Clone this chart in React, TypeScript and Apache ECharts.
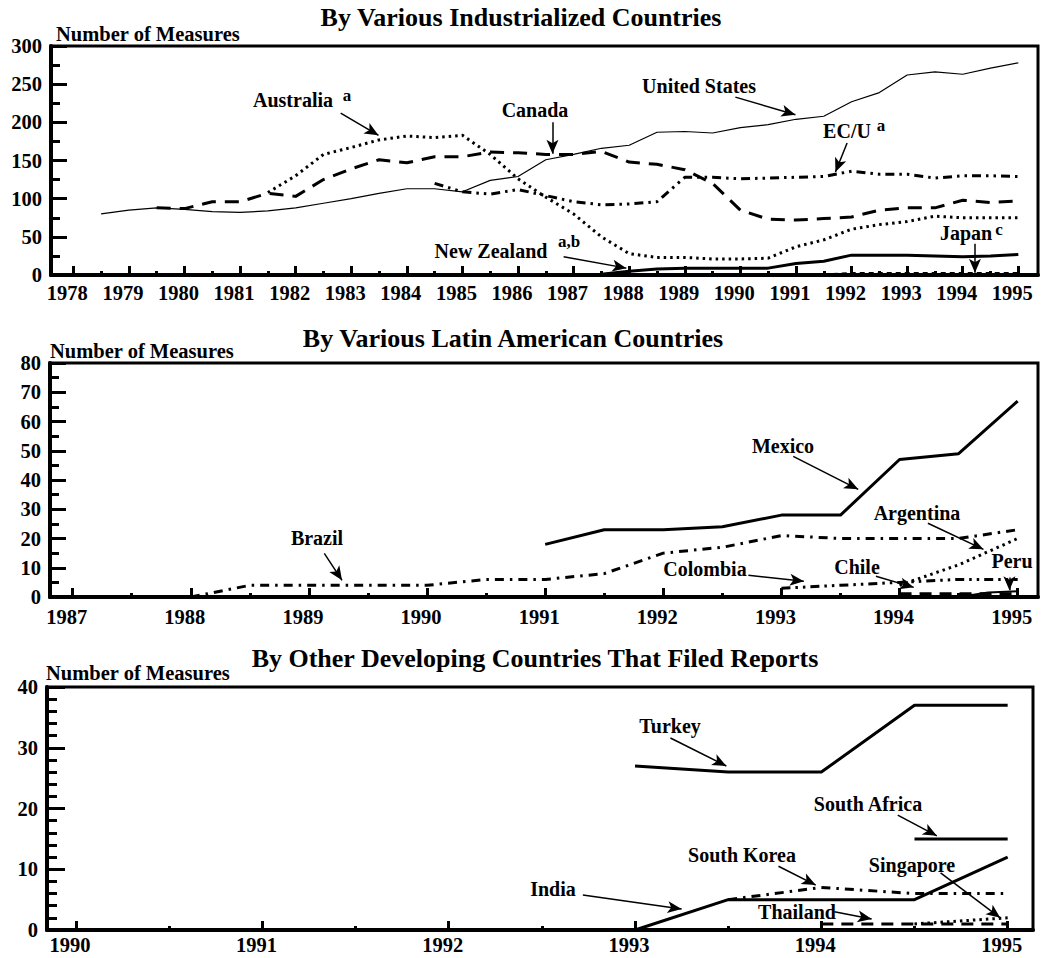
import React, { useEffect, useRef } from "react";
import * as echarts from "echarts";

const FONT = '"Liberation Serif", "Times New Roman", Times, serif';

// ---------- Panel 1: industrialized countries ----------
const topYears = [1978, 1979, 1980, 1981, 1982, 1983, 1984, 1985, 1986, 1987, 1988, 1989, 1990, 1991, 1992, 1993, 1994, 1995];
const usData = [
  [1978.5, 80], [1979, 85], [1979.5, 88], [1980, 86], [1980.5, 83], [1981, 82], [1981.5, 84], [1982, 88], [1982.5, 94],
  [1983, 100], [1983.5, 107], [1984, 113], [1984.5, 113], [1985, 109], [1985.5, 124], [1986, 129], [1986.5, 151],
  [1987, 158], [1987.5, 166], [1988, 170], [1988.5, 187], [1989, 188], [1989.5, 186], [1990, 193], [1990.5, 197],
  [1991, 204], [1991.5, 208], [1992, 227], [1992.5, 239], [1993, 262], [1993.5, 266], [1994, 263], [1994.5, 271], [1995, 278],
];
const canadaData = [
  [1979.5, 88], [1980, 87], [1980.5, 96], [1981, 96], [1981.5, 107], [1982, 103], [1982.5, 125], [1983, 139], [1983.5, 151],
  [1984, 147], [1984.5, 155], [1985, 155], [1985.5, 161], [1986, 160], [1986.5, 158], [1987, 158], [1987.5, 162], [1988, 148],
  [1988.5, 145], [1989, 138], [1989.5, 120], [1990, 85], [1990.5, 73], [1991, 72], [1991.5, 74], [1992, 76], [1992.5, 85],
  [1993, 88], [1993.5, 88], [1994, 98], [1994.5, 95], [1995, 97],
];
const australiaData = [
  [1981.5, 108], [1982, 130], [1982.5, 158], [1983, 167], [1983.5, 177], [1984, 182], [1984.5, 180], [1985, 183], [1985.5, 158],
  [1986, 126], [1986.5, 102], [1987, 80], [1987.5, 50], [1988, 28], [1988.5, 23], [1989, 23], [1989.5, 21], [1990, 21],
  [1990.5, 22], [1991, 37], [1991.5, 46], [1992, 60], [1992.5, 66], [1993, 70], [1993.5, 77], [1994, 75], [1994.5, 75], [1995, 75],
];
const ecData = [
  [1984.5, 120], [1985, 109], [1985.5, 106], [1986, 112], [1986.5, 104], [1987, 96], [1987.5, 92], [1988, 93], [1988.5, 96],
  [1989, 128], [1989.5, 128], [1990, 126], [1990.5, 127], [1991, 128], [1991.5, 129], [1992, 136], [1992.5, 132], [1993, 132],
  [1993.5, 127], [1994, 130], [1994.5, 130], [1995, 129],
];
const newZealandData = [
  [1987.5, 1], [1988, 5], [1988.5, 8], [1989, 9], [1989.5, 9], [1990, 9], [1990.5, 9], [1991, 15], [1991.5, 18], [1992, 26],
  [1992.5, 26], [1993, 26], [1993.5, 25], [1994, 24], [1994.5, 25], [1995, 27],
];
const japanData = [[1991.5, 1], [1992, 3], [1992.5, 3], [1993, 3], [1993.5, 3], [1994, 3], [1994.5, 3], [1995, 3]];

// ---------- Panel 2: Latin America ----------
const midYears = [1987, 1988, 1989, 1990, 1991, 1992, 1993, 1994, 1995];
const mexicoData = [[1991, 18], [1991.5, 23], [1992, 23], [1992.5, 24], [1993, 28], [1993.5, 28], [1994, 47], [1994.5, 49], [1995, 67]];
const brazilData = [
  [1988, 0], [1988.5, 4], [1989, 4], [1989.5, 4], [1990, 4], [1990.5, 6], [1991, 6], [1991.5, 8], [1992, 15], [1992.5, 17],
  [1993, 21], [1993.5, 20], [1994, 20], [1994.5, 20], [1995, 23],
];
const argentinaData = [[1994, 4], [1994.5, 11], [1995, 20]];
const colombiaData = [[1993, 3], [1993.5, 4], [1994, 5], [1994.5, 6], [1995, 6]];
const chileData = [[1994, 1], [1994.5, 1], [1995, 1]];
const peruData = [[1994.5, 0], [1994.75, 1.5], [1995, 2]];

// ---------- Panel 3: other developing countries ----------
const botYears = [1990, 1991, 1992, 1993, 1994, 1995];
const turkeyData = [[1993, 27], [1993.5, 26], [1994, 26], [1994.5, 37], [1995, 37]];
const southAfricaData = [[1994.5, 15], [1995, 15]];
const indiaData = [[1993, 0], [1993.5, 5], [1994, 5], [1994.5, 5], [1995, 12]];
const southKoreaData = [[1993.5, 5], [1994, 7], [1994.5, 6], [1995, 6]];
const thailandData = [[1994, 1], [1994.5, 1], [1995, 1]];
const singaporeData = [[1994.5, 1], [1995, 2]];

// annotation arrows, in data coordinates of each panel
const topArrows = [
  { from: [1982.81, 212], to: [1983.49, 183] },
  { from: [1986.62, 200], to: [1986.62, 159] },
  { from: [1989.91, 233], to: [1990.99, 210] },
  { from: [1991.92, 173], to: [1991.71, 135] },
  { from: [1986.82, 24], to: [1987.95, 9] },
  { from: [1994.22, 41], to: [1994.22, 3] },
];
const midArrows = [
  { from: [1989.13, 14.9], to: [1989.28, 5.7] },
  { from: [1993.1, 48.1], to: [1993.65, 36.8] },
  { from: [1994.24, 25.2], to: [1994.71, 16.3] },
  { from: [1992.72, 7.4], to: [1993.19, 5.4] },
  { from: [1993.8, 7.1], to: [1994.12, 3.3] },
  { from: [1994.93, 6.7], to: [1994.93, 2.3] },
];
const botArrows = [
  { from: [1993.19, 31.6], to: [1993.49, 27.0] },
  { from: [1994.41, 18.9], to: [1994.62, 15.5] },
  { from: [1993.77, 10.5], to: [1993.97, 7.4] },
  { from: [1994.64, 9.4], to: [1994.96, 2.0] },
  { from: [1992.72, 5.75], to: [1993.25, 3.45] },
  { from: [1994.07, 3.0], to: [1994.27, 1.8] },
];

const panels = [
  { grid: { left: 51, right: 15, top: 46, height: 229 }, xMin: 1977.599, xMax: 1995.354, years: topYears, yMax: 300, yInterval: 50, yMinor: 2, labelMargin: 7, majorLen: 16, minorLen: 9 },
  { grid: { left: 50, right: 15, top: 363, height: 234 }, xMin: 1986.808, xMax: 1995.172, years: midYears, yMax: 80, yInterval: 10, yMinor: 2, labelMargin: 9, majorLen: 16, minorLen: 9 },
  { grid: { left: 47, right: 20, top: 687, height: 243 }, xMin: 1989.844, xMax: 1995.136, years: botYears, yMax: 40, yInterval: 10, yMinor: 5, labelMargin: 4, majorLen: 18, minorLen: 10 },
];

function halfYears(years: number[]) {
  const out: number[] = [];
  for (let i = 0; i < years.length - 1; i++) out.push((years[i] + years[i + 1]) / 2);
  return out;
}

function lineSeries(name: string, data: number[][], panel: number, width: number, dash: any, arrows?: any[]) {
  const s: any = {
    name,
    type: "line",
    xAxisIndex: panel * 2,
    yAxisIndex: panel,
    data,
    showSymbol: false,
    symbol: "none",
    silent: true,
    z: 3,
    lineStyle: { color: "#000", width, type: dash, cap: "butt", join: "round" },
  };
  if (arrows) {
    s.markLine = {
      silent: true,
      animation: false,
      symbol: ["none", "arrow"],
      symbolSize: [9, 14],
      label: { show: false },
      lineStyle: { color: "#000", width: 1.5, type: "solid" },
      emphasis: { disabled: true },
      data: arrows.map((a) => [{ coord: a.from }, { coord: a.to }]),
    };
  }
  return s;
}

function txt(text: string, x: number, y: number, size = 20) {
  return {
    type: "text",
    x,
    y,
    z: 100,
    silent: true,
    style: { text, font: `bold ${size}px ${FONT}`, fill: "#000", align: "center", verticalAlign: "middle" },
  };
}

function txtLeft(text: string, x: number, y: number, size = 20) {
  return {
    type: "text",
    x,
    y,
    z: 100,
    silent: true,
    style: { text, font: `bold ${size}px ${FONT}`, fill: "#000", align: "left", verticalAlign: "middle" },
  };
}

const SOLID = "solid";
const DOT = [2.5, 4];
const DASH = [14, 9];
const DASHDOT = [9, 6, 2.5, 6];
const DASHDOTDOT = [9, 5, 2.5, 5, 2.5, 5];

export default function App() {
  const ref = useRef<HTMLDivElement>(null);

  useEffect(() => {
    if (!ref.current) return;
    const chart = echarts.init(ref.current, null, { renderer: "svg" });

    const grids = panels.map((p) => ({
      ...p.grid,
      show: true,
      borderColor: "#000",
      borderWidth: 3,
      backgroundColor: "transparent",
    }));

    const xAxes: any[] = [];
    panels.forEach((p, i) => {
      xAxes.push({
        type: "value",
        gridIndex: i,
        min: p.xMin,
        max: p.xMax,
        position: "bottom",
        axisLine: { show: true, onZero: false, lineStyle: { color: "#000", width: 4 } },
        axisTick: { show: true, inside: true, length: 9, customValues: p.years, lineStyle: { color: "#000", width: 3 } },
        axisLabel: {
          show: true,
          customValues: p.years,
          formatter: (v: number) => String(Math.round(v)),
          color: "#000",
          fontFamily: FONT,
          fontWeight: "bold",
          fontSize: 20.5,
          margin: p.labelMargin,
          padding: [0, 12, 0, 0],
        },
        splitLine: { show: false },
      });
      xAxes.push({
        type: "value",
        gridIndex: i,
        min: p.xMin,
        max: p.xMax,
        position: "bottom",
        axisLine: { show: false },
        axisTick: { show: true, inside: true, length: 4, customValues: halfYears(p.years), lineStyle: { color: "#000", width: 3 } },
        axisLabel: { show: false },
        splitLine: { show: false },
      });
    });

    const yAxes = panels.map((p, i) => ({
      type: "value",
      gridIndex: i,
      min: 0,
      max: p.yMax,
      interval: p.yInterval,
      axisLine: { show: true, lineStyle: { color: "#000", width: 4 } },
      axisTick: { show: true, inside: true, length: p.majorLen, lineStyle: { color: "#000", width: 3 } },
      minorTick: { show: true, splitNumber: p.yMinor, length: p.minorLen, lineStyle: { color: "#000", width: 3 } },
      axisLabel: { color: "#000", fontFamily: FONT, fontWeight: "bold", fontSize: 20.5, margin: 9 },
      splitLine: { show: false },
      minorSplitLine: { show: false },
    }));

    const series = [
      lineSeries("United States", usData, 0, 1.2, SOLID, topArrows),
      lineSeries("Canada", canadaData, 0, 3, DASH),
      lineSeries("Australia", australiaData, 0, 3, DOT),
      lineSeries("EC/U", ecData, 0, 3, DASHDOTDOT),
      lineSeries("New Zealand", newZealandData, 0, 3, SOLID),
      lineSeries("Japan", japanData, 0, 1.5, [5, 4]),

      lineSeries("Mexico", mexicoData, 1, 3, SOLID, midArrows),
      lineSeries("Brazil", brazilData, 1, 3, DASHDOT),
      lineSeries("Argentina", argentinaData, 1, 3, DOT),
      lineSeries("Colombia", colombiaData, 1, 3, DASHDOTDOT),
      lineSeries("Chile", chileData, 1, 3.5, [12, 8]),
      lineSeries("Peru", peruData, 1, 2, SOLID),

      lineSeries("Turkey", turkeyData, 2, 3, SOLID, botArrows),
      lineSeries("South Africa", southAfricaData, 2, 3, SOLID),
      lineSeries("India", indiaData, 2, 3, SOLID),
      lineSeries("South Korea", southKoreaData, 2, 3, DASHDOT),
      lineSeries("Thailand", thailandData, 2, 3, [12, 8]),
      lineSeries("Singapore", singaporeData, 2, 3, DOT),
    ];

    const graphics = [
      txt("By Various Industrialized Countries", 521, 17, 26),
      txtLeft("Number of Measures", 56, 34, 20.5),
      txt("Australia", 293, 100),
      txt("a", 347, 95, 17),
      txt("Canada", 535, 110),
      txt("United States", 699, 86),
      txt("EC/U", 847, 131),
      txt("a", 881, 125, 17),
      txt("New Zealand", 491, 251),
      txt("a,b", 569, 241, 17),
      txt("Japan", 966, 233),
      txt("c", 999, 229, 17),

      txt("By Various Latin American Countries", 513, 338, 26),
      txtLeft("Number of Measures", 50, 351, 20.5),
      txt("Brazil", 317, 538),
      txt("Mexico", 783, 446),
      txt("Argentina", 917, 513),
      txt("Colombia", 705, 569),
      txt("Chile", 857, 567),
      txt("Peru", 1012, 561),

      txt("By Other Developing Countries That Filed Reports", 535, 658, 26),
      txtLeft("Number of Measures", 46, 673, 20.5),
      txt("Turkey", 670, 726),
      txt("South Africa", 868, 804),
      txt("South Korea", 742, 855),
      txt("Singapore", 912, 865),
      txt("India", 553, 889),
      txt("Thailand", 797, 912),
    ];

    chart.setOption({
      animation: false,
      backgroundColor: "#fff",
      textStyle: { fontFamily: FONT },
      grid: grids,
      xAxis: xAxes,
      yAxis: yAxes,
      series,
      graphic: graphics,
      tooltip: { show: false },
    });

    return () => chart.dispose();
  }, []);

  return (
    <div
      ref={ref}
      style={{ position: "absolute", left: 0, top: 0, width: 1053, height: 958, background: "#fff" }}
    />
  );
}
